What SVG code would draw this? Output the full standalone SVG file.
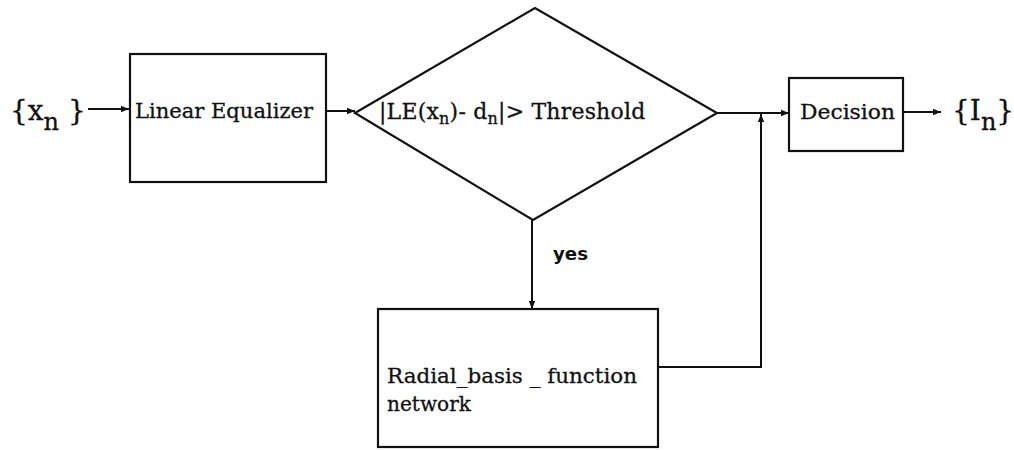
<svg xmlns="http://www.w3.org/2000/svg" width="1014" height="450" viewBox="0 0 1014 450">
<style>
.box{fill:#fff;stroke:#111;stroke-width:2.2}
.ln{fill:none;stroke:#111;stroke-width:2}
.t{font-family:"DejaVu Serif","Liberation Serif",serif;fill:#111;stroke:#111;stroke-width:0.3}
.s{font-family:"DejaVu Sans","Liberation Sans",sans-serif;fill:#111}
</style>
<defs>
<marker id="ah" viewBox="0 0 10 10" refX="10" refY="5" markerWidth="12" markerHeight="8" markerUnits="userSpaceOnUse" orient="auto">
<path d="M0,1 L10,5 L0,9 Z" fill="#111"/>
</marker>
</defs>
<rect width="1014" height="450" fill="#fff"/>
<g id="connectors">
<line class="ln" x1="88" y1="109" x2="129" y2="109" marker-end="url(#ah)"/>
<line class="ln" x1="326" y1="111" x2="355" y2="111" marker-end="url(#ah)"/>
<line class="ln" x1="717" y1="113" x2="789" y2="113" marker-end="url(#ah)"/>
<line class="ln" x1="903" y1="112" x2="941" y2="112" marker-end="url(#ah)"/>
<line class="ln" x1="532" y1="220" x2="532" y2="309" marker-end="url(#ah)"/>
<polyline class="ln" points="658,367 761,367 761,114" marker-end="url(#ah)"/>
</g>
<g id="input">
<text class="t" x="10" y="120" font-size="28">{x<tspan font-size="24" dy="10">n</tspan><tspan dy="-10"> }</tspan></text>
</g>
<g id="linear-equalizer">
<rect class="box" x="130" y="54" width="196" height="128"/>
<text class="t" x="135" y="118" font-size="21" textLength="178" lengthAdjust="spacingAndGlyphs">Linear Equalizer</text>
</g>
<g id="threshold">
<polygon class="box" points="355,113 535,8 717,113 533,220"/>
<text class="t" x="379" y="119" font-size="22" letter-spacing="0.2">|LE(x<tspan font-size="16" dy="5">n</tspan><tspan dy="-5">)- d</tspan><tspan font-size="16" dy="5">n</tspan><tspan dy="-5">|&gt; Threshold</tspan></text>
</g>
<g id="decision">
<rect class="box" x="789" y="78" width="114" height="73"/>
<text class="t" x="800" y="119" font-size="21" textLength="95" lengthAdjust="spacingAndGlyphs">Decision</text>
</g>
<g id="output">
<text class="t" x="952" y="120" font-size="28">{I<tspan font-size="24" dy="10">n</tspan><tspan dy="-10">}</tspan></text>
</g>
<g id="yes-label">
<text class="s" x="553" y="260" font-size="18" font-weight="600" textLength="35" lengthAdjust="spacingAndGlyphs">yes</text>
</g>
<g id="rbf">
<rect class="box" x="378" y="309" width="280" height="138"/>
<text class="t" x="387" y="383" font-size="21" textLength="250" lengthAdjust="spacingAndGlyphs">Radial_basis _ function</text>
<text class="t" x="387" y="411" font-size="21" textLength="84" lengthAdjust="spacingAndGlyphs">network</text>
</g>
</svg>
